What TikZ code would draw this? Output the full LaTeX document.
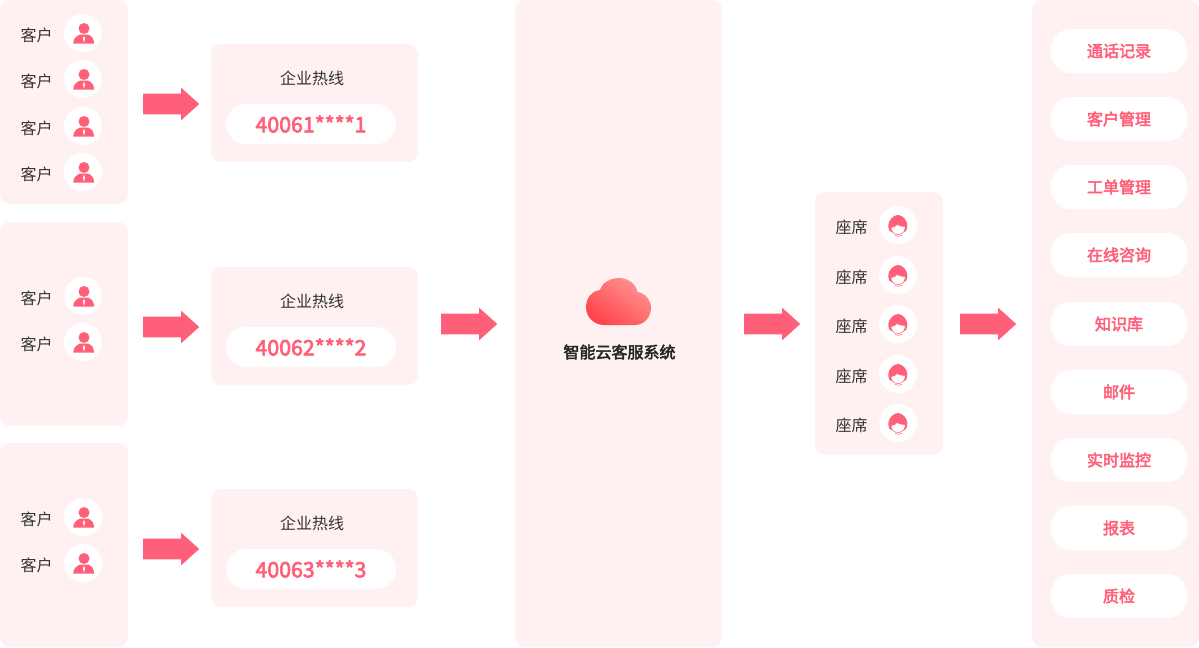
\documentclass[tikz,border=0pt]{standalone}
\usepackage{fontspec}
\setmainfont{Noto Sans CJK SC}
\newfontfamily\medfont[FakeBold=3]{Noto Sans CJK SC}
\usetikzlibrary{shapes.arrows,positioning}
\newdimen\px
\px=0.75pt
\definecolor{panelpink}{HTML}{FFF1F1}
\definecolor{mainpink}{HTML}{FF5F78}
\definecolor{darktext}{HTML}{333333}
\definecolor{cloudlight}{HTML}{FF9490}
\definecolor{clouddark}{HTML}{FF444C}
\tikzset{
    %Define style for boxes
    panel/.style={
           rectangle,
           rounded corners=7.5pt,
           fill=panelpink,
           inner sep=0pt},
    pill/.style={
           rectangle,
           rounded corners=15pt,
           fill=white,
           inner sep=0pt,
           text=mainpink,
           font=\medfont\fontsize{12}{12}\selectfont},
    avatar/.style={
           circle,
           fill=white,
           inner sep=0pt,
           minimum size=38\px},
    label/.style={
           inner sep=0pt,
           text=darktext,
           font=\fontsize{12}{12}\selectfont},
    %Define style for arrows
    pil/.style={
           single arrow,
           fill=mainpink,
           inner xsep=0pt,
           inner ysep=10\px,
           minimum height=56\px,
           minimum width=32\px,
           single arrow head extend=6\px,
           single arrow tip angle=84},
    kehuicon/.pic={
           \fill[mainpink] (1,-4.5) circle[radius=5.5];
           \fill[mainpink] (-9.7,10.5) .. controls (-9.7,5.5) and (-7,3.5) .. (-3,1.5)
                -- (5,1.5) .. controls (9,3.5) and (11,5.5) .. (11,10.5) -- cycle;
           \fill[white] (1,2.5) -- (2,5.5) -- (1,10) -- (0,5.5) -- cycle;
    },
    zuoxiicon/.pic={
           \fill[mainpink] (0,-10) .. controls (5,-10) and (9.3,-4) .. (9.3,0)
                .. controls (9.3,2) and (9,4) .. (8,6) -- (6,7) -- (-6,7) -- (-8.5,6)
                .. controls (-9.5,4) and (-9.7,2) .. (-9.7,0)
                .. controls (-9.7,-4) and (-5,-10) .. (0,-10) -- cycle;
           \filldraw[fill=white,draw=mainpink,line width=0.4pt] (-7,2.5) .. controls (-4,2.5) and (-2,1) .. (-1,-0.5)
                .. controls (1,1) and (4,1.5) .. (7.2,1.5)
                .. controls (7.5,5.5) and (5,9.5) .. (0.2,9.5) .. controls (-4.5,9.5) and (-7,6.5) .. (-7,2.5) -- cycle;
           \draw[mainpink,line width=0.4pt] (-3,10.5) .. controls (-1,11.5) and (2,11.5) .. (4,10.5);
    }
}

\begin{document}
\begin{tikzpicture}[x=0.75pt,y=-0.75pt]
\useasboundingbox (0,0) rectangle (1199,647);
 %panels
\node[panel, minimum width=128\px, minimum height=204\px](groupa) at (64,102){};
\node[panel, minimum width=128\px, minimum height=204\px](groupb) at (64,324){};
\node[panel, minimum width=128\px, minimum height=204\px](groupc) at (64,545){};
\node[panel, minimum width=207\px, minimum height=647\px](center) at (618.5,323.5){};
\node[panel, minimum width=128\px, minimum height=263\px](seats) at (879,323.5){};
\node[panel, minimum width=167\px, minimum height=647\px](tools) at (1115.5,323.5){};

 %customers
\foreach \y [count=\i] in {33,79,126,172,296,342,517,563}{
    \node[avatar](kehu\i) at (83,\y){};
    \pic at (kehu\i.center) {kehuicon};
    \node[label](kehutext\i) at (36.5,\y+2){客户};
}

 %hotlines
\foreach \y/\num [count=\i] in {103/40061****1,326/40062****2,548/40063****3}{
    \node[panel, minimum width=207\px, minimum height=118\px](line\i) at (314.5,\y){};
    \node[label](linetext\i) at (312,\y-25){企业热线};
    \node[pill, minimum width=170\px, minimum height=40\px,
          font=\medfont\fontsize{16}{16}\selectfont](linenum\i) at (311,\y+21){\num};
    \node[pil](linearrow\i) at (165.5,\y+1){};
}

 %center
\node[pil](arrowa) at (463.5,324){};
\node[label, font=\medfont\fontsize{12}{12}\selectfont, text=black!85](cloudtext) at (619.5,352){智能云客服系统};
\shade[left color=cloudlight, right color=clouddark, shading angle=325]
    (604,325) .. controls (594,325) and (586,317) .. (586,307)
    .. controls (586,298) and (592,291) .. (600,290)
    .. controls (602,283) and (610,278) .. (619,278)
    .. controls (628,278) and (636,284) .. (637.5,292)
    .. controls (645,293) and (651,300) .. (651,308)
    .. controls (651,317) and (644,325) .. (635,325) -- cycle;

 %seats
\node[pil](arrowb) at (766.5,324){};
\foreach \y [count=\i] in {225,275,324,374,423}{
    \node[avatar](zuoxi\i) at (898,\y){};
    \pic at (zuoxi\i.center) {zuoxiicon};
    \node[label](zuoxitext\i) at (851.5,\y+2){座席};
}
\node[pil](arrowc) at (982.5,324){};

 %tools
\foreach \y/\name [count=\i] in {51/通话记录,119/客户管理,187/工单管理,255/在线咨询,324/知识库,392/邮件,460/实时监控,528/报表,596/质检}{
    \node[pill, minimum width=136\px, minimum height=44\px](tool\i) at (1119,\y){\name};
}
\end{tikzpicture}
\end{document}
